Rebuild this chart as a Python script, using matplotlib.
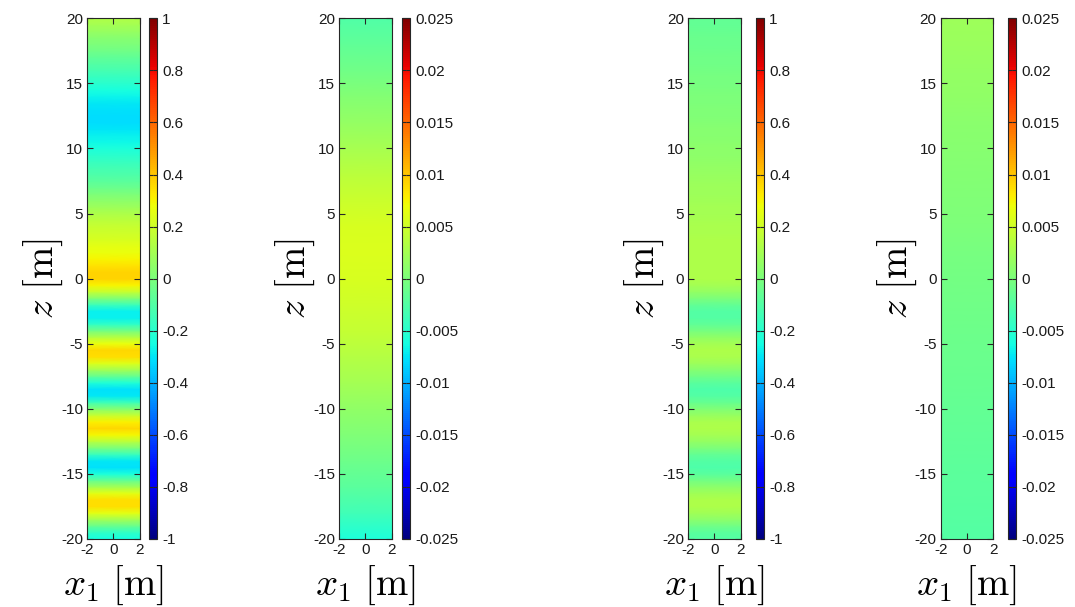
import numpy as np
import matplotlib
matplotlib.use("Agg")
import matplotlib.pyplot as plt
from matplotlib.ticker import FuncFormatter

plt.rcParams['font.family'] = ['Liberation Sans', 'DejaVu Sans']
plt.rcParams['mathtext.fontset'] = 'cm'
plt.rcParams['axes.unicode_minus'] = False

# ---- data ----
x_edges = [-2, 2]

z_fine = np.arange(-20, 20.01, 0.5)
z_coarse = np.arange(-20, 20.01, 2.0)

field1 = [
    -0.25, -0.18, -0.05, 0.10, 0.25, 0.35, 0.35, 0.25, 0.10, -0.06,
    -0.23, -0.31, -0.29, -0.16, 0.00, 0.15, 0.29, 0.36, 0.31, 0.18,
    0.02, -0.15, -0.29, -0.31, -0.22, -0.06, 0.10, 0.24, 0.35, 0.36,
    0.27, 0.14, -0.02, -0.18, -0.28, -0.28, -0.15, 0.02, 0.18, 0.30,
    0.37,
    0.37, 0.34, 0.30, 0.27, 0.25, 0.22, 0.20, 0.18, 0.15, 0.12,
    0.08, 0.04, 0.00, -0.04, -0.08, -0.11, -0.14, -0.17, -0.20, -0.23,
    -0.26, -0.28, -0.30, -0.32, -0.32, -0.31, -0.29, -0.27, -0.24, -0.20,
    -0.17, -0.13, -0.10, -0.07, -0.03, 0.00, 0.03, 0.07, 0.10, 0.13,
]

field2 = [
    -0.0058, -0.0036, -0.0020, -0.0008, 0.0002, 0.0012, 0.0024, 0.0034,
    0.0043, 0.0050, 0.0055, 0.0057, 0.0055, 0.0048, 0.0038, 0.0027,
    0.0015, 0.0004, -0.0006, -0.0016, -0.0026,
]

field3 = [
    -0.10, -0.08, -0.03, 0.04, 0.09, 0.12, 0.12, 0.09, 0.04, -0.02,
    -0.08, -0.11, -0.10, -0.06, 0.00, 0.06, 0.10, 0.12, 0.11, 0.07,
    0.01, -0.05, -0.10, -0.11, -0.08, -0.03, 0.03, 0.08, 0.11, 0.12,
    0.10, 0.05, -0.01, -0.07, -0.10, -0.10, -0.06, 0.00, 0.06, 0.10,
    0.12,
    0.12, 0.12, 0.12, 0.12, 0.12, 0.12, 0.115, 0.11, 0.105, 0.10,
    0.095, 0.09, 0.085, 0.08, 0.075, 0.07, 0.06, 0.05, 0.045, 0.04,
    0.035, 0.03, 0.025, 0.02, 0.015, 0.01, 0.005, 0.00, -0.005, -0.01,
    -0.015, -0.02, -0.025, -0.03, -0.035, -0.04, -0.045, -0.05, -0.055, -0.06,
]

field4 = [
    -0.0024, -0.0022, -0.0020, -0.0018, -0.0016, -0.0014, -0.0012, -0.0010,
    -0.0008, -0.0006, -0.0004, -0.0002, 0.0000, 0.0002, 0.0004, 0.0006,
    0.0009, 0.0012, 0.0015, 0.0018, 0.0021,
]

panels = [
    (z_fine, field1, 1.0, [-1, -0.8, -0.6, -0.4, -0.2, 0, 0.2, 0.4, 0.6, 0.8, 1]),
    (z_coarse, field2, 0.025, [-0.025, -0.02, -0.015, -0.01, -0.005, 0, 0.005, 0.01, 0.015, 0.02, 0.025]),
    (z_fine, field3, 1.0, [-1, -0.8, -0.6, -0.4, -0.2, 0, 0.2, 0.4, 0.6, 0.8, 1]),
    (z_coarse, field4, 0.025, [-0.025, -0.02, -0.015, -0.01, -0.005, 0, 0.005, 0.01, 0.015, 0.02, 0.025]),
]

# ---- layout (figure fractions) ----
W, H = 1075, 607
ax_lefts = [87.3, 339.3, 688.3, 940.7]
cb_lefts = [149.0, 402.0, 756.0, 1008.0]
ax_w = 52.3
cb_w = 7.5
bottom_px = 539.0
top_px = 18.3

fig = plt.figure(figsize=(W / 100, H / 100), dpi=100)
edge = '#262626'

for i, (zz, vals, lim, cticks) in enumerate(panels):
    ax = fig.add_axes([ax_lefts[i] / W, (H - bottom_px) / H, ax_w / W, (bottom_px - top_px) / H])
    cax = fig.add_axes([cb_lefts[i] / W, (H - bottom_px) / H, cb_w / W, (bottom_px - top_px) / H])
    X, Z = np.meshgrid(x_edges, zz)
    C = np.repeat(np.asarray(vals)[:, None], len(x_edges), axis=1)
    m = ax.pcolormesh(X, Z, C, shading='gouraud', cmap='jet', vmin=-lim, vmax=lim)
    ax.set_xlim(-2, 2)
    ax.set_ylim(-20, 20)
    ax.set_xticks([-2, 0, 2])
    ax.set_yticks(np.arange(-20, 21, 5))
    ax.tick_params(direction='in', top=True, right=True, length=4, width=0.8,
                   labelsize=11, colors=edge, pad=3)
    ax.tick_params(labelcolor='#1a1a1a')
    for sp in ax.spines.values():
        sp.set_color(edge)
        sp.set_linewidth(0.8)
    ax.set_xlabel(r'$x_1\ [\mathrm{m}]$', fontsize=28, labelpad=5)
    ax.set_ylabel(r'$z\ [\mathrm{m}]$', fontsize=28, labelpad=-3)

    cb = fig.colorbar(m, cax=cax, ticks=cticks)
    cb.ax.yaxis.set_major_formatter(FuncFormatter(lambda v, p: '%g' % v))
    cb.ax.tick_params(direction='in', left=True, right=True, length=3, width=0.8,
                      labelsize=11, colors=edge, labelcolor='#1a1a1a', pad=4)
    cb.outline.set_edgecolor(edge)
    cb.outline.set_linewidth(0.8)

fig.savefig('out.png', dpi=100)
